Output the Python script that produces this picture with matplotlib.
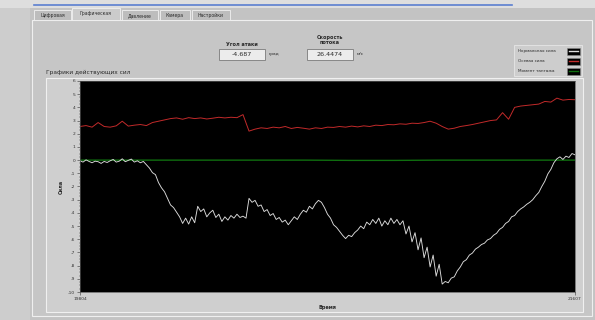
import numpy as np
import matplotlib.pyplot as plt
from matplotlib.patches import Rectangle
from matplotlib.lines import Line2D
from matplotlib.ticker import AutoMinorLocator

plt.rcParams['font.family'] = ['DejaVu Sans']

# --- data ---
t_start, t_end = 19804, 21607

normal_force = [
    -0.05, -0.15, 0.02, -0.10, -0.20, -0.08, -0.12, -0.25, -0.10, -0.18, -0.05,
    0.05, -0.15, -0.08, 0.10, -0.12, -0.02, 0.08, -0.15, -0.05, -0.20, -0.10,
    -0.35, -0.60, -0.95, -1.10, -1.70, -2.10, -2.40, -2.90, -3.40, -3.60, -3.95,
    -4.30, -4.80,
    -4.40, -4.85, -4.30, -4.75, -3.50, -3.90, -3.70, -4.30, -4.00, -3.80, -4.35,
    -4.10, -4.65, -4.30, -4.55, -4.20, -4.40, -4.10, -4.35, -4.25, -4.40,
    -2.90, -3.20, -3.05, -3.50, -3.40, -3.90, -3.75, -4.20, -4.05, -4.50, -4.35,
    -4.70, -4.55, -4.90, -4.60, -4.30, -4.50, -4.10, -3.80, -3.95, -3.50, -3.70,
    -3.30, -3.05, -3.20,
    -3.60, -4.10, -4.40, -4.90, -5.10, -5.40, -5.70, -5.95, -5.70, -5.80, -5.50,
    -5.30, -5.00, -5.20, -4.70, -4.90, -4.50, -4.80, -4.40, -5.00, -4.60, -4.90,
    -4.40, -4.80, -4.50, -4.90,
    -4.60, -5.60, -5.00, -6.20, -5.50, -6.80, -5.90, -7.40, -6.60, -8.10, -7.20,
    -8.80, -7.90, -9.40, -9.20,
    -9.30, -8.95, -8.85, -8.40, -8.10, -7.70, -7.55, -7.20, -7.05, -6.75, -6.60,
    -6.40, -6.30, -6.05, -5.95, -5.70, -5.55, -5.25, -5.10, -4.80, -4.65, -4.30,
    -4.20, -3.90, -3.70, -3.55, -3.35, -3.20, -3.00, -2.70, -2.45, -2.00, -1.60,
    -1.05, -0.70, -0.20, 0.10, 0.25, 0.05, 0.30, 0.20, 0.50, 0.40,
]

axial_force = [
    2.55, 2.62, 2.50, 2.85, 2.55, 2.50, 2.60, 2.95, 2.58, 2.65, 2.70, 2.62, 2.85,
    2.95, 3.05, 3.15, 3.20, 3.10, 3.22, 3.15, 3.20, 3.12, 3.18, 3.25, 3.20, 3.25,
    3.22, 3.45, 2.20, 2.35, 2.45, 2.40, 2.50, 2.45, 2.55, 2.40, 2.48, 2.42, 2.35,
    2.45, 2.40, 2.50, 2.48, 2.55, 2.50, 2.58, 2.52, 2.60, 2.55, 2.65, 2.62, 2.70,
    2.68, 2.75, 2.72, 2.80, 2.78, 2.85, 2.95, 2.80, 2.55, 2.35, 2.42, 2.55, 2.62,
    2.70, 2.80, 2.90, 3.00, 3.05, 3.60, 3.10, 4.00, 4.10, 4.15, 4.20, 4.25, 4.45,
    4.40, 4.70, 4.55, 4.60, 4.58,
]

pitch_moment = [0.0, 0.0, 0.0, 0.0, 0.0, 0.0, -0.02, -0.02, 0.0, 0.0, 0.0, 0.0]

y_ticks = list(range(-10, 7))
tab_names = ['Цифровая', 'Графическая', 'Давление', 'Камера', 'Настройки']
legend_names = ['Нормальная сила', 'Осевая сила', 'Момент тангажа']
series_colors = ['#dcdcdc', '#c22a2a', '#0f6e0f']
angle_value = '-4.687'
speed_value = '26.4474'

# --- figure in pixel layout ---
W, H = 595, 320
fig = plt.figure(figsize=(W / 100, H / 100), dpi=100)
fig.patch.set_facecolor('#c3c3c3')


def box(x, y, w, h, z=0.5, **kw):
    # pixel coordinates, y counted from the top
    fig.add_artist(Rectangle((x / W, 1 - (y + h) / H), w / W, h / H,
                             transform=fig.transFigure, zorder=z, **kw))


def label(x, y, s, **kw):
    kw.setdefault('fontsize', 3.6)
    kw.setdefault('color', '#2a2a2a')
    fig.text(x / W, 1 - y / H, s, zorder=3, **kw)


def hline(x0, x1, y, **kw):
    fig.add_artist(Line2D([x0 / W, x1 / W], [1 - y / H, 1 - y / H],
                          transform=fig.transFigure, zorder=3, **kw))


# window background
box(0, 0, W, 8, facecolor='#dedede', edgecolor='none')
hline(34, 512, 5, color='#5b7fd0', lw=1.2)
box(0, 8, 30, H - 8, facecolor='#cdcdcd', edgecolor='none')

# tab page
box(32, 20, 560, 296, facecolor='#c6c6c6', edgecolor='#efefef', lw=0.8)
tab_x = [34, 72, 122, 160, 192]
tab_w = [37, 48, 36, 30, 38]
for i, (name, tx, tw) in enumerate(zip(tab_names, tab_x, tab_w)):
    sel = i == 1
    box(tx, 8 if sel else 10, tw, 12 if sel else 10, z=1,
        facecolor='#cbcbcb' if sel else '#bdbdbd', edgecolor='#f2f2f2', lw=0.6)
    label(tx + tw / 2, 14 if sel else 15.5, name, ha='center', va='center', fontsize=3.3)

# indicators
label(242, 44, 'Угол атаки', ha='center', va='center', fontweight='bold')
box(219, 49, 46, 11, z=1, facecolor='#ececec', edgecolor='#7a7a7a', lw=0.6)
label(242, 54.5, angle_value, ha='center', va='center', fontsize=4.6)
label(269, 54, 'град', ha='left', va='center', fontsize=3.2)

label(330, 37, 'Скорость', ha='center', va='center', fontweight='bold')
label(330, 43, 'потока', ha='center', va='center', fontweight='bold')
box(307, 49, 46, 11, z=1, facecolor='#ececec', edgecolor='#7a7a7a', lw=0.6)
label(330, 54.5, speed_value, ha='center', va='center', fontsize=4.6)
label(357, 54, 'м/с', ha='left', va='center', fontsize=3.2)

# legend
box(514, 45, 68, 31, z=1, facecolor='#cdcdcd', edgecolor='#e6e6e6', lw=0.6)
for i, (name, col) in enumerate(zip(legend_names, series_colors)):
    yy = 51 + i * 10
    label(518, yy, name, ha='left', va='center', fontsize=3.0)
    box(567, yy - 3.5, 13, 7, z=2, facecolor='black', edgecolor='#888888', lw=0.4)
    hline(569, 578, yy, color=col, lw=1.0)

# graph frame
label(46, 72, 'Графики действующих сил', ha='left', va='center', fontsize=4.2)
box(46, 78, 537, 234, z=1, facecolor='#cfcfcf', edgecolor='#f0f0f0', lw=0.8)

ax = fig.add_axes([80 / W, 1 - 292 / H, 495 / W, 211 / H])
ax.set_zorder(10)
ax.set_facecolor('black')

t_normal = np.linspace(t_start, t_end, len(normal_force))
t_axial = np.linspace(t_start, t_end, len(axial_force))
t_moment = np.linspace(t_start, t_end, len(pitch_moment))
ax.plot(t_moment, pitch_moment, color=series_colors[2], lw=1.0)
ax.plot(t_axial, axial_force, color=series_colors[1], lw=0.7)
ax.plot(t_normal, normal_force, color=series_colors[0], lw=0.65)

ax.set_xlim(t_start, t_end)
ax.set_ylim(-10, 6)
ax.set_yticks(y_ticks)
ax.set_yticklabels([str(v) for v in y_ticks])
ax.yaxis.set_minor_locator(AutoMinorLocator(4))
ax.set_xticks([t_start, t_end])
ax.set_xticklabels([str(t_start), str(t_end)])
ax.tick_params(axis='both', labelsize=3.2, colors='#333333', length=2, width=0.4, pad=1.5)
ax.tick_params(axis='y', which='minor', length=1, width=0.3, colors='#333333')
for sp in ax.spines.values():
    sp.set_color('#555555')
    sp.set_linewidth(0.5)
ax.set_ylabel('Сила', fontsize=3.6, color='#2a2a2a', labelpad=3, fontweight='bold')
ax.set_xlabel('Время', fontsize=3.6, color='#2a2a2a', labelpad=3, fontweight='bold')

fig.savefig('out.png', dpi=100, facecolor=fig.get_facecolor())
